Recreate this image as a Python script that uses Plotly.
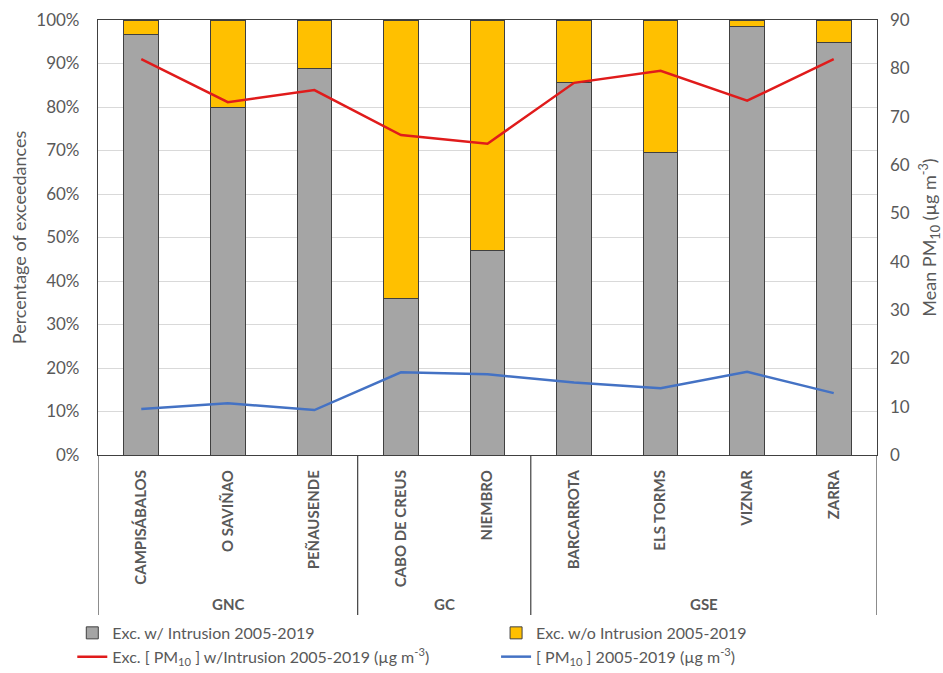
import plotly.graph_objects as go

# Stations, grouped by region
stations = ["CAMPISÁBALOS", "O SAVIÑAO", "PEÑAUSENDE", "CABO DE CREUS", "NIEMBRO",
            "BARCARROTA", "ELS TORMS", "VIZNAR", "ZARRA"]
groups = ["GNC", "GC", "GSE"]
group_sizes = [3, 2, 4]

# Share of exceedances with / without dust intrusion (fraction)
exc_with = [0.966, 0.800, 0.888, 0.360, 0.469, 0.857, 0.695, 0.985, 0.948]
exc_without = [round(1 - v, 3) for v in exc_with]

# Mean PM10 (ug m-3)
pm10_exc_intrusion = [81.9, 73.0, 75.5, 66.2, 64.4, 77.0, 79.5, 73.3, 81.9]
pm10_mean = [9.5, 10.7, 9.3, 17.1, 16.7, 15.0, 13.8, 17.2, 12.8]

FONT = "Lato"
TXT = "#595959"

x_idx = list(range(len(stations)))

fig = go.Figure()
fig.add_bar(x=x_idx, y=exc_with, name="Exc. w/ Intrusion 2005-2019", legend="legend",
            marker=dict(color="#A5A5A5", line=dict(color="#404040", width=1)))
fig.add_bar(x=x_idx, y=exc_without, name="Exc. w/o Intrusion 2005-2019", legend="legend2",
            marker=dict(color="#FFC000", line=dict(color="#404040", width=1)))
fig.add_scatter(x=x_idx, y=pm10_exc_intrusion, yaxis="y2", mode="lines", legend="legend",
                name="Exc. [ PM<sub>10</sub> ] w/Intrusion 2005-2019 (µg m<sup>-3</sup>)",
                line=dict(color="#E01B1B", width=2.5))
fig.add_scatter(x=x_idx, y=pm10_mean, yaxis="y2", mode="lines", legend="legend2",
                name="[ PM<sub>10</sub> ] 2005-2019 (µg m<sup>-3</sup>)",
                line=dict(color="#4472C4", width=2.5))

# Group separators and labels under the category axis
shapes = []
annotations = []
start = 0
bounds = [-0.5]
for g, n in zip(groups, group_sizes):
    annotations.append(dict(x=start + (n - 1) / 2, y=-0.342, xref="x", yref="paper",
                            text="<b>" + g + "</b>", showarrow=False,
                            font=dict(family=FONT, size=15, color=TXT),
                            xanchor="center", yanchor="middle"))
    start += n
    bounds.append(start - 0.5)
for b in bounds:
    shapes.append(dict(type="line", xref="x", yref="paper", x0=b, x1=b, y0=0, y1=-0.368,
                       line=dict(color="#404040", width=1.2)))

legend_common = dict(
    orientation="v", yanchor="top", xanchor="left", y=-0.37,
    font=dict(family=FONT, size=16, color=TXT),
    itemwidth=30, tracegroupgap=0, traceorder="normal",
    bgcolor="rgba(0,0,0,0)",
)

fig.update_layout(
    width=943, height=673,
    margin=dict(l=98, r=66, t=20, b=218, autoexpand=False),
    paper_bgcolor="white", plot_bgcolor="white",
    barmode="stack", bargap=0.6,
    font=dict(family=FONT, color=TXT),
    shapes=shapes, annotations=annotations,
    xaxis=dict(
        range=[-0.5, len(stations) - 0.5],
        tickmode="array", tickvals=x_idx,
        ticktext=["<b>" + s + "</b>" for s in stations],
        tickangle=-90, ticks="", ticklabelstandoff=8,
        tickfont=dict(family=FONT, size=15, color=TXT),
        showline=True, linecolor="#404040", linewidth=1.2, mirror=True,
        showgrid=False, zeroline=False, automargin=False,
    ),
    yaxis=dict(
        range=[0, 1], dtick=0.1, tickformat=".0%",
        ticks="", ticklabelstandoff=14,
        tickfont=dict(family=FONT, size=17, color=TXT),
        title=dict(text="Percentage of exceedances", standoff=4,
                   font=dict(family=FONT, size=18, color=TXT)),
        showgrid=True, gridcolor="#D9D9D9", gridwidth=1,
        showline=True, linecolor="#404040", linewidth=1.2, mirror=True,
        zeroline=False, automargin=False,
    ),
    yaxis2=dict(
        range=[0, 90], dtick=10, overlaying="y", side="right",
        ticks="", ticklabelstandoff=12,
        tickfont=dict(family=FONT, size=17, color=TXT),
        title=dict(text="Mean PM<sub>10</sub> (µg m<sup>-3</sup>)", standoff=14,
                   font=dict(family=FONT, size=18, color=TXT)),
        showgrid=False, zeroline=False, showline=False, automargin=False,
    ),
    legend=dict(x=-0.033, **legend_common),
    legend2=dict(x=0.511, **legend_common),
)

fig.write_html("out.html")
